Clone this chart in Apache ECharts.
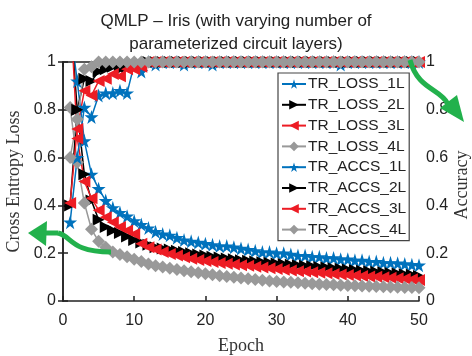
<!DOCTYPE html>
<html>
<head>
<meta charset="utf-8">
<script src="https://cdn.jsdelivr.net/npm/echarts@6/dist/echarts.min.js"></script>
<style>
html,body{margin:0;padding:0;background:#fff;}
#c{width:472px;height:356px;}
</style>
</head>
<body>
<div id="c"></div>
<script>
const epochs = [1,2,3,4,5,6,7,8,9,10,11,12,13,14,15,16,17,18,19,20,21,22,23,24,25,26,27,28,29,30,31,32,33,34,35,36,37,38,39,40,41,42,43,44,45,46,47,48,49,50];
const xTicks = [0,10,20,30,40,50];
const yTicks = [0,0.2,0.4,0.6,0.8,1];

const lossL1 = [1.15,0.92,0.67,0.53,0.47,0.42,0.39,0.37,0.355,0.335,0.32,0.305,0.29,0.28,0.275,0.265,0.255,0.25,0.245,0.24,0.235,0.23,0.23,0.225,0.22,0.215,0.21,0.205,0.205,0.20,0.20,0.195,0.19,0.19,0.185,0.185,0.18,0.18,0.175,0.175,0.17,0.17,0.165,0.165,0.16,0.16,0.158,0.155,0.152,0.15];
const lossL2 = [1.2,0.8,0.53,0.42,0.34,0.31,0.295,0.285,0.27,0.255,0.245,0.235,0.225,0.22,0.215,0.21,0.205,0.2,0.195,0.19,0.185,0.182,0.178,0.175,0.17,0.168,0.165,0.162,0.16,0.157,0.155,0.152,0.15,0.147,0.145,0.142,0.14,0.137,0.135,0.132,0.13,0.127,0.125,0.122,0.12,0.117,0.115,0.112,0.11,0.105];
const lossL3 = [1.25,0.68,0.50,0.43,0.38,0.35,0.33,0.31,0.295,0.28,0.24,0.225,0.215,0.205,0.197,0.19,0.183,0.177,0.172,0.167,0.163,0.159,0.156,0.153,0.15,0.147,0.143,0.14,0.137,0.134,0.131,0.128,0.125,0.123,0.12,0.118,0.116,0.113,0.111,0.109,0.107,0.105,0.103,0.101,0.099,0.097,0.095,0.093,0.091,0.088];
const lossL4 = [0.81,0.58,0.41,0.30,0.25,0.225,0.205,0.195,0.185,0.175,0.165,0.155,0.148,0.142,0.137,0.132,0.127,0.122,0.118,0.114,0.11,0.106,0.102,0.099,0.096,0.093,0.09,0.087,0.084,0.082,0.08,0.078,0.076,0.074,0.072,0.07,0.069,0.068,0.066,0.065,0.064,0.063,0.062,0.061,0.06,0.059,0.058,0.057,0.056,0.055];

const accL1 = [0.33,0.6,0.81,0.77,0.86,0.87,0.87,0.88,0.87,0.99,0.96,1,0.99,1,1,1,0.99,1,1,1,0.99,1,1,1,1,1,1,1,1,1,1,1,1,1,1,1,1,1,0.99,1,1,1,1,1,1,1,1,1,1,1];
const accL2 = [0.40,0.80,0.93,0.92,0.96,0.97,0.98,0.97,0.98,0.98,0.99,1,1,1,1,1,1,1,1,1,1,1,1,1,1,1,1,1,1,1,1,1,1,1,1,1,1,1,1,1,1,1,1,1,1,1,1,1,1,1];
const accL3 = [0.41,0.72,0.88,0.86,0.92,0.93,0.95,0.94,0.97,0.97,0.98,1,1,1,1,1,1,1,1,1,1,1,1,1,1,1,1,1,1,1,1,1,1,1,1,1,1,1,1,1,1,1,1,1,1,1,1,1,1,1];
const accL4 = [0.60,0.76,0.97,0.98,1,1,1,1,1,1,1,1,1,1,1,1,1,1,1,1,1,1,1,1,1,1,1,1,1,1,1,1,1,1,1,1,1,1,1,1,1,1,1,1,1,1,1,1,1,1];

const names = ['TR_LOSS_1L','TR_LOSS_2L','TR_LOSS_3L','TR_LOSS_4L','TR_ACCS_1L','TR_ACCS_2L','TR_ACCS_3L','TR_ACCS_4L'];

const STAR = 'path://M50,0 L61,35 L98,35 L68,57 L79,91 L50,70 L21,91 L32,57 L2,35 L39,35 Z';
const TRI_R = 'path://M0,0 L10,5 L0,10 Z';
const TRI_L = 'path://M10,0 L0,5 L10,10 Z';
const styles = [
  {color:'#0072BD', symbol:STAR, size:14},
  {color:'#000000', symbol:TRI_R, size:12},
  {color:'#ED1C24', symbol:TRI_L, size:12},
  {color:'#999999', symbol:'diamond', size:13}
];

function pairs(arr){ return epochs.map((e,i)=>[e, arr[i]]); }
const allData = [lossL1,lossL2,lossL3,lossL4,accL1,accL2,accL3,accL4];
const series = allData.map((d,k)=>{
  const s = styles[k%4];
  return {
    name: names[k], type:'line', yAxisIndex: k<4?0:1,
    data: pairs(d), clip:true,
    symbol: s.symbol, symbolSize: s.size, showAllSymbol:true,
    lineStyle:{color:s.color, width:1.5},
    itemStyle:{color:s.color, borderWidth:0},
    animation:false
  };
});

const FONT = 'Liberation Sans';
const SERIF = 'Liberation Serif';
const axisCommon = {
  min:0, max:1, interval:0.2,
  axisLine:{show:true, lineStyle:{color:'#222', width:1.5}},
  axisTick:{show:true, inside:true, length:5, lineStyle:{color:'#222', width:1.5}},
  splitLine:{show:false},
  axisLabel:{fontFamily:FONT, fontSize:16, color:'#222', margin:7,
    formatter: v => { const t = yTicks.find(x=>Math.abs(x-v)<1e-6); return t===undefined?'':String(+t.toFixed(1)); }}
};

const chart = echarts.init(document.getElementById('c'), null, {renderer:'canvas'});
chart.setOption({
  animation:false,
  backgroundColor:'#fff',
  title:{
    text:'QMLP – Iris (with varying number of\nparameterized circuit layers)',
    left:'center', top:5,
    textStyle:{fontFamily:FONT, fontSize:17, fontWeight:'normal', color:'#222', lineHeight:23, align:'center'}
  },
  grid:{left:63, right:53, top:62, bottom:55, containLabel:false, outerBoundsMode:'none'},
  legend:{
    orient:'vertical', left:278, top:73,
    data:names,
    backgroundColor:'#fff', borderColor:'#444', borderWidth:1.2,
    padding:[3,3,3,3], itemGap:4.8, itemWidth:24, itemHeight:12,
    textStyle:{fontFamily:FONT, fontSize:15.5, color:'#222', padding:[0,0,0,-3]}
  },
  xAxis:[{
    type:'value', min:0, max:50, interval:10,
    name:'Epoch', nameLocation:'middle', nameGap:36,
    nameTextStyle:{fontFamily:SERIF, fontSize:18, color:'#333'},
    axisLine:{show:true, onZero:false, lineStyle:{color:'#222', width:1.5}},
    axisTick:{show:true, inside:true, length:5, lineStyle:{color:'#222', width:1.5}},
    splitLine:{show:false},
    axisLabel:{fontFamily:FONT, fontSize:16, color:'#222', margin:12,
      formatter: v => xTicks.includes(v)? String(v):''}
  },{
    type:'value', min:0, max:50, interval:10, position:'top',
    axisLine:{show:true, onZero:false, lineStyle:{color:'#222', width:1.5}},
    axisTick:{show:true, inside:true, length:5, lineStyle:{color:'#222', width:1.5}},
    axisLabel:{show:false}, splitLine:{show:false}
  }],
  yAxis:[Object.assign({}, axisCommon, {
    type:'value', position:'left',
    name:'Cross Entropy Loss', nameLocation:'middle', nameGap:39, nameRotate:90,
    nameTextStyle:{fontFamily:SERIF, fontSize:18, color:'#333'}
  }), Object.assign({}, axisCommon, {
    type:'value', position:'right'
  })],
  series: series,
  graphic:[
    {type:'text', z:50, x:462, y:185, rotation:Math.PI/2,
      style:{text:'Accuracy', fontFamily:SERIF, fontSize:18, fill:'#333', align:'center', verticalAlign:'middle'}},
    {type:'bezierCurve', z:100, shape:{x1:111,y1:252, x2:58,y2:233, cpx1:70,cpy1:252, cpx2:72,cpy2:236},
      style:{stroke:'#22B14C', lineWidth:5, fill:null}},
    {type:'polygon', z:100, shape:{points:[[28,233],[47,221],[46,246]]}, style:{fill:'#22B14C'}},
    {type:'line', z:100, shape:{x1:58,y1:233,x2:44,y2:233}, style:{stroke:'#22B14C', lineWidth:5}},
    {type:'bezierCurve', z:100, shape:{x1:410,y1:60, x2:448,y2:104, cpx1:418,cpy1:90, cpx2:440,cpy2:88},
      style:{stroke:'#22B14C', lineWidth:5, fill:null}},
    {type:'polygon', z:100, shape:{points:[[464,122],[440,108],[457,95]]}, style:{fill:'#22B14C'}}
  ]
});
</script>
</body>
</html>
